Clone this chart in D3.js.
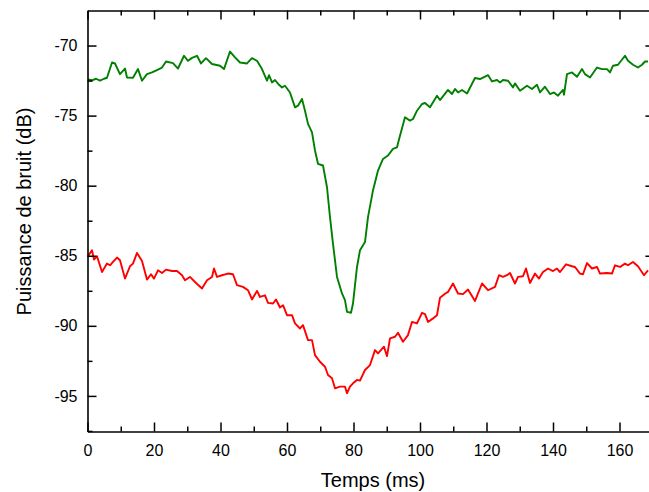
<!DOCTYPE html>
<html>
<head>
<meta charset="utf-8">
<script src="https://cdn.jsdelivr.net/npm/d3@7"></script>
<style>
  html, body { margin: 0; padding: 0; background: #fff; }
  svg { display: block; font-family: "Liberation Sans", Arial, sans-serif; }
</style>
</head>
<body>
<svg id="chart" width="649" height="492"></svg>
<script>
// ---- Data ----
const xLabel = "Temps (ms)";
const yLabel = "Puissance de bruit (dB)";
const xTicks = [0, 20, 40, 60, 80, 100, 120, 140, 160];
const yTicks = [-70, -75, -80, -85, -90, -95];

// Green series: time (ms)
const greenT = [0.15,1.35,2.56,3.76,4.96,5.86,7.37,8.27,9.77,11.28,11.88,13.68,15.19,16.39,17.89,19.40,20.90,22.41,23.61,25.71,27.22,29.02,30.23,31.43,32.93,34.14,35.64,37.44,39.85,41.05,42.86,44.36,45.86,47.97,49.47,50.98,52.48,53.98,54.59,55.49,56.39,57.59,58.50,59.40,60.90,62.41,63.31,64.51,65.41,66.32,67.52,68.42,69.32,70.83,72.03,72.93,73.83,75.04,76.54,77.44,78.05,79.25,79.85,81.05,81.95,83.46,84.36,85.86,87.37,88.87,90.38,91.88,93.08,93.98,95.49,96.99,97.89,99.10,100.60,101.50,103.01,105.11,106.02,108.42,109.62,110.53,111.43,112.63,114.14,116.54,118.05,120.45,121.65,123.16,124.06,124.96,126.47,127.97,128.57,130.08,132.18,133.68,135.19,136.09,137.59,139.10,140.30,141.50,143.01,143.31,144.21,145.71,147.22,148.72,149.62,151.13,153.23,154.74,156.24,157.14,158.05,159.55,161.65,162.56,164.06,165.56,166.77,167.67,168.57];
// Green series: noise power (dB)
const greenDb = [-72.41,-72.48,-72.37,-72.51,-72.37,-72.30,-71.21,-71.28,-72.04,-71.64,-72.28,-72.30,-71.68,-72.51,-72.04,-71.92,-71.75,-71.57,-71.14,-71.25,-71.64,-70.73,-71.09,-70.88,-70.73,-71.28,-70.90,-71.32,-71.44,-71.68,-70.43,-70.85,-71.21,-71.28,-70.90,-71.09,-71.68,-72.51,-72.11,-72.63,-72.46,-72.80,-72.99,-72.87,-73.35,-74.41,-74.29,-73.81,-74.65,-75.59,-76.19,-77.49,-78.44,-78.56,-80.11,-82.24,-84.14,-86.51,-87.69,-88.17,-89.00,-89.07,-88.41,-85.80,-84.61,-84.02,-82.24,-80.34,-78.92,-78.09,-77.85,-77.37,-77.26,-76.43,-75.12,-75.36,-75.24,-74.65,-74.17,-74.10,-74.41,-73.58,-73.89,-73.17,-73.46,-73.10,-73.35,-73.17,-73.42,-72.32,-72.39,-72.11,-72.56,-72.46,-72.63,-72.46,-72.51,-72.99,-72.70,-73.22,-72.87,-73.10,-72.80,-73.35,-72.94,-73.46,-73.35,-73.58,-73.17,-73.51,-72.04,-71.92,-72.23,-71.68,-72.04,-72.28,-71.57,-71.68,-71.68,-71.92,-71.44,-71.37,-70.73,-71.09,-71.37,-71.57,-71.37,-71.14,-71.14];

// Red series: time (ms)
const redT = [0.0,1.35,1.95,2.86,4.36,5.86,6.77,7.67,8.87,9.77,11.28,12.78,13.68,14.89,16.39,17.89,19.10,20.00,21.20,22.41,23.61,25.41,26.92,28.42,29.32,30.83,32.33,34.44,35.94,37.44,38.05,38.95,40.45,42.26,43.76,44.96,46.77,48.27,49.47,50.98,51.88,53.38,54.29,55.79,56.69,57.89,58.80,60.00,61.50,62.41,63.91,64.81,66.32,67.52,68.42,69.92,71.43,72.33,73.53,74.44,75.94,77.44,78.05,78.95,79.85,81.05,81.95,83.46,84.96,86.47,87.37,89.17,90.08,90.98,92.48,93.38,94.89,96.39,97.59,99.10,100.60,101.50,102.41,103.91,105.11,106.02,107.52,108.42,109.92,111.43,112.93,114.44,116.54,118.65,120.45,122.56,123.76,124.96,126.17,127.07,128.57,129.47,130.98,131.88,133.08,134.59,135.79,136.99,138.50,140.00,141.20,142.11,143.91,145.71,146.62,148.12,149.02,150.23,151.73,153.23,154.14,156.24,157.74,158.65,160.15,161.65,162.56,164.06,165.56,167.37,168.57];
// Red series: noise power (dB)
const redDb = [-85.09,-84.61,-85.27,-85.04,-86.16,-85.56,-85.68,-85.44,-85.13,-85.32,-86.63,-85.75,-85.56,-84.80,-85.37,-86.70,-86.32,-86.63,-86.04,-86.23,-85.99,-86.09,-86.09,-86.39,-86.75,-86.51,-86.87,-87.34,-86.75,-86.51,-85.91,-86.51,-86.39,-86.27,-86.32,-87.10,-87.22,-87.46,-88.12,-87.51,-87.94,-87.82,-88.36,-88.41,-88.12,-88.69,-88.53,-89.24,-89.24,-89.83,-90.19,-89.95,-91.02,-91.02,-92.09,-92.56,-92.92,-93.51,-93.74,-94.46,-94.34,-94.34,-94.81,-94.34,-94.10,-93.86,-93.91,-93.15,-92.80,-91.73,-91.96,-91.49,-92.16,-90.90,-90.78,-90.50,-91.14,-90.66,-89.72,-89.83,-89.07,-89.17,-89.72,-89.47,-89.24,-87.99,-87.71,-87.58,-86.98,-87.69,-87.74,-87.41,-88.22,-86.98,-87.46,-87.22,-86.39,-86.51,-86.39,-86.23,-86.98,-86.51,-86.46,-85.91,-86.94,-86.27,-86.63,-86.16,-85.91,-86.09,-85.91,-86.16,-85.61,-85.75,-85.80,-86.27,-86.32,-85.52,-85.91,-85.80,-86.27,-86.23,-86.27,-85.68,-85.80,-85.56,-85.68,-85.44,-85.75,-86.39,-86.04];

const seriesColors = ["#008000", "#ff0000"];

// ---- Layout ----
const svg = d3.select("#chart");
const mLeft = 87.5, mTop = 10.5, mBottom = 431.5;
const xPerUnit = 3.325;
const xMax = 170.5;
const mRight = mLeft + xMax * xPerUnit;

const x = d3.scaleLinear().domain([0, xMax]).range([mLeft, mRight]);
const y = d3.scaleLinear().domain([-97.54, -67.5]).range([mBottom, mTop]);

svg.append("clipPath").attr("id", "plotclip")
  .append("rect").attr("x", mLeft).attr("y", mTop).attr("width", mRight - mLeft).attr("height", mBottom - mTop);

// Data lines
const line = d3.line().x(d => x(d[0])).y(d => y(d[1]));
const series = [d3.zip(greenT, greenDb), d3.zip(redT, redDb)];
svg.append("g").attr("clip-path", "url(#plotclip)")
  .selectAll("path").data(series).join("path")
  .attr("d", line)
  .attr("fill", "none")
  .attr("stroke", (d, i) => seriesColors[i])
  .attr("stroke-width", 1.9)
  .attr("stroke-linejoin", "round");

// Axes (ticks pointing inward)
const xMinor = d3.range(10, 171, 20);
const yMinor = [-72.5, -77.5, -82.5, -87.5, -92.5, -97.5];
const majorLen = 9, minorLen = 5;

function styleAxis(g) {
  g.selectAll("path.domain").attr("stroke", "#000").attr("stroke-width", 1.6);
  g.selectAll(".tick line").attr("stroke", "#000").attr("stroke-width", 1.5);
  g.selectAll("text").attr("fill", "#000").attr("font-size", 16)
    .attr("font-family", "'Liberation Sans', Arial, sans-serif");
}
function minorStyle(g) {
  g.select(".domain").remove();
  g.selectAll(".tick line").attr("stroke", "#000").attr("stroke-width", 1.5);
}

// bottom
const gB = svg.append("g").attr("transform", `translate(0,${mBottom})`)
  .call(d3.axisBottom(x).tickValues(xTicks).tickSizeInner(-majorLen).tickSizeOuter(0).tickPadding(13).tickFormat(d3.format("d")));
styleAxis(gB);
svg.append("g").attr("transform", `translate(0,${mBottom})`)
  .call(d3.axisBottom(x).tickValues(xMinor).tickSizeInner(-minorLen).tickSizeOuter(0).tickFormat(""))
  .call(minorStyle);

// top
const gT = svg.append("g").attr("transform", `translate(0,${mTop})`)
  .call(d3.axisTop(x).tickValues(xTicks).tickSizeInner(-majorLen).tickSizeOuter(0).tickFormat(""));
styleAxis(gT);
svg.append("g").attr("transform", `translate(0,${mTop})`)
  .call(d3.axisTop(x).tickValues(xMinor).tickSizeInner(-minorLen).tickSizeOuter(0).tickFormat(""))
  .call(minorStyle);

// left
const gL = svg.append("g").attr("transform", `translate(${mLeft},0)`)
  .call(d3.axisLeft(y).tickValues(yTicks).tickSizeInner(-majorLen).tickSizeOuter(0).tickPadding(10).tickFormat(d => "-" + Math.abs(d)));
styleAxis(gL);
svg.append("g").attr("transform", `translate(${mLeft},0)`)
  .call(d3.axisLeft(y).tickValues(yMinor).tickSizeInner(-minorLen).tickSizeOuter(0).tickFormat(""))
  .call(minorStyle);

// right
const gR = svg.append("g").attr("transform", `translate(${mRight},0)`)
  .call(d3.axisRight(y).tickValues(yTicks).tickSizeInner(-majorLen).tickSizeOuter(0).tickFormat(""));
styleAxis(gR);
svg.append("g").attr("transform", `translate(${mRight},0)`)
  .call(d3.axisRight(y).tickValues(yMinor).tickSizeInner(-minorLen).tickSizeOuter(0).tickFormat(""))
  .call(minorStyle);

// Axis titles
svg.append("text")
  .attr("x", 373).attr("y", 487)
  .attr("text-anchor", "middle")
  .attr("font-size", 20)
  .attr("fill", "#000")
  .text(xLabel);

svg.append("text")
  .attr("transform", "translate(31,211.5) rotate(-90)")
  .attr("text-anchor", "middle")
  .attr("font-size", 20)
  .attr("fill", "#000")
  .text(yLabel);
</script>
</body>
</html>
